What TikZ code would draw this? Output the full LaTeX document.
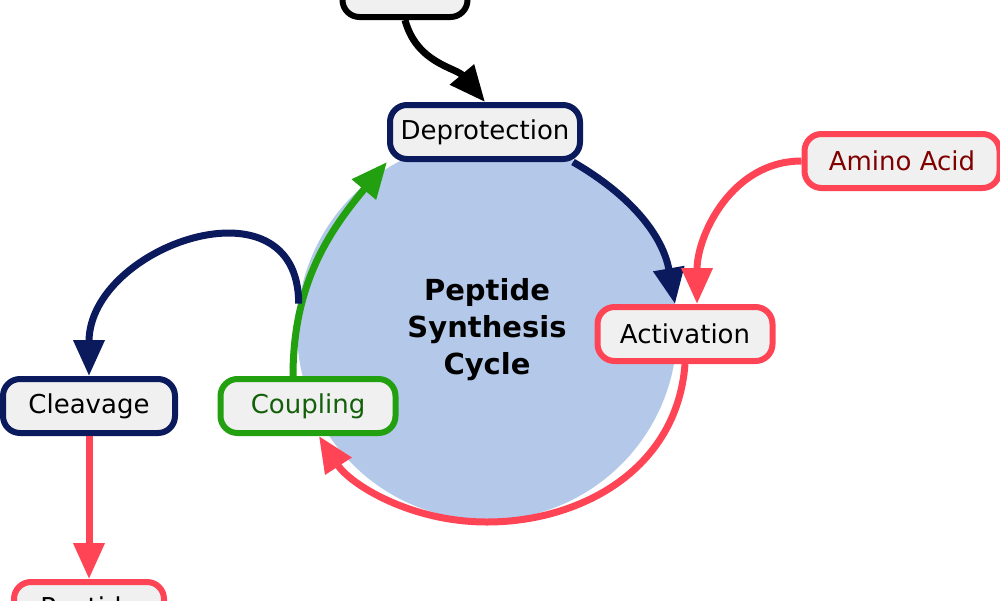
\documentclass[tikz,border=0pt]{standalone}
\usepackage{fontspec}
\setmainfont{DejaVu Sans}
\usetikzlibrary{arrows.meta}
\definecolor{navy}{HTML}{0A1A5C}
\definecolor{redc}{HTML}{FF4455}
\definecolor{greenc}{HTML}{22A010}
\definecolor{boxfill}{HTML}{F0F0F0}
\definecolor{cyclefill}{HTML}{B4C9EA}
\tikzset{
  box/.style={draw,line width=6pt,rounded corners=17pt,fill=boxfill,minimum height=54pt,
    font=\fontsize{26}{30}\selectfont},
  link/.style={line width=7pt,-{Triangle[length=36pt,width=30pt]}},
}
\begin{document}
\begin{tikzpicture}[x=1pt,y=-1pt]
\useasboundingbox (0,0) rectangle (1000,600);
%%
\node (cyc) at (487,330) [circle,fill=cyclefill,minimum size=380pt,align=center,
  font=\fontsize{29}{37}\selectfont\bfseries] {Peptide\\Synthesis\\Cycle};
\node (res) at (405,-10) [box,draw=black,minimum width=125pt] {Resin};
\node (dep) at (485,132) [box,draw=navy,minimum width=190pt] {Deprotection};
\node (act) at (685,334) [box,draw=redc,minimum width=175pt] {Activation};
\node (cou) at (308,406) [box,draw=greenc,minimum width=175pt,text=greenc!60!black] {Coupling};
\node (clv) at (89,406) [box,draw=navy,minimum width=172pt] {Cleavage};
\node (ami) at (902,161) [box,draw=redc,minimum width=195pt,text=red!50!black] {Amino Acid};
\node (pep) at (89,609) [box,draw=redc,minimum width=150pt] {Peptide};
\coordinate (loop) at (cyc.172);
\coordinate (actin) at ([xshift=-10pt]act.north);
\coordinate (amiin) at ([xshift=12pt]act.north);
%
\draw [link,black] (res.south) to[out=-75,in=130] (dep.north);
\draw [link,navy] ([xshift=-10pt]dep.south east) to[out=-30,in=100] (actin);
\draw [link,redc] (act.south) .. controls (677,470) and (580,522) .. (487,522)
  .. controls (410,522) and (350,484) .. (cou.-70);
\draw [link,greenc] ([xshift=-15pt]cou.north) to[out=90,in=-130] (dep.south west);
\draw [link,redc] (ami.west) to[out=180,in=90] (amiin);
\draw [link,navy] (loop) to[out=90,in=90,looseness=1.5] (clv.north);
\draw [link,redc] (clv.south) -- (pep.north);
%
\end{tikzpicture}
\end{document}
